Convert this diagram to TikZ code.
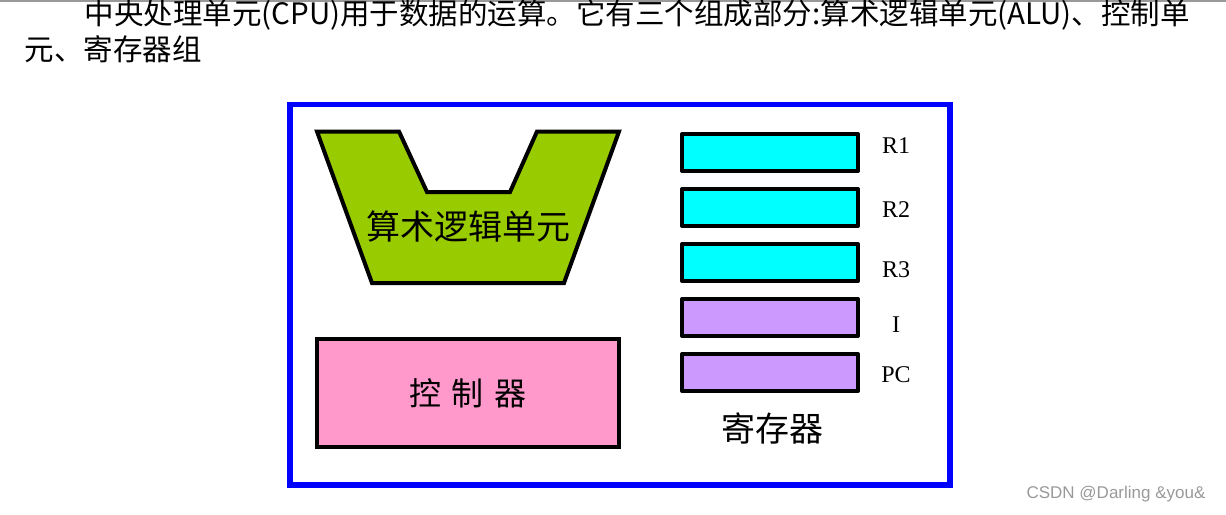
\documentclass[tikz,border=0pt]{standalone}
\usepackage{fontspec}
\setmainfont{Liberation Serif}
\newfontfamily\cjk{Noto Sans CJK SC}
\newfontfamily\wmfont{Liberation Sans}
\usepackage{tikz}
\usetikzlibrary{positioning}
\definecolor{aluGreen}{HTML}{99CC00}
\definecolor{ctrlPink}{HTML}{FF99CC}
\definecolor{regCyan}{HTML}{00FFFF}
\definecolor{regPurple}{HTML}{CC99FF}
\definecolor{frameBlue}{HTML}{0000FF}
\tikzset{
  % page text
  bodytext/.style={
    anchor=base west, inner sep=0pt,
    font=\cjk\fontsize{29.5}{36}\selectfont
  },
  % CPU parts
  cpuframe/.style={
    rectangle, draw=frameBlue, line width=5.5pt
  },
  alushape/.style={
    draw=black, fill=aluGreen, line width=4pt
  },
  ctrlbox/.style={
    rectangle, draw=black, fill=ctrlPink, line width=4pt,
    minimum width=302pt, minimum height=108pt,
    font=\cjk\fontsize{32}{32}\selectfont
  },
  regbox/.style={
    rectangle, draw=black, line width=4pt, line join=round,
    minimum width=176pt, minimum height=37pt, inner sep=0pt
  },
  regcyan/.style={regbox, fill=regCyan},
  regpurple/.style={regbox, fill=regPurple},
  reglabel/.style={
    inner sep=0pt, font=\fontsize{24}{24}\selectfont
  },
  partlabel/.style={
    inner sep=0pt, font=\cjk\fontsize{34}{34}\selectfont
  },
  watermark/.style={
    inner sep=0pt, text=black!40,
    font=\wmfont\fontsize{17}{17}\selectfont
  }
}

\begin{document}
\begin{tikzpicture}[x=1pt, y=-1pt]
  \useasboundingbox (0,0) rectangle (1226,514);
  \draw[black!40, line width=1.5pt] (0,0.75) -- (1226,0.75);

  % --- page text ---
  \node[bodytext] (line1) at (84.5,24)
    {中央处理单元(CPU)用于数据的运算。它有三个组成部分:算术逻辑单元(ALU)、控制单};
  \node[bodytext] (line2) at (24.5,60) {元、寄存器组};

  % --- CPU frame ---
  \node[cpuframe, minimum width=660pt, minimum height=380.5pt] (cpu) at (620,294.75) {};

  % --- ALU ---
  \draw[alushape] (317,131.5) -- (399,131.5) -- (427,192) -- (510,192)
    -- (537,131.5) -- (619,131.5) -- (564,283) -- (372,283) -- cycle;
  \node[partlabel] (alu) at (468,227) {算术逻辑单元};

  % --- control unit ---
  \node[ctrlbox] (ctrl) at (468,393) {控\hspace{11pt}制\hspace{11pt}器};

  % --- registers ---
  \node[regcyan] (r1) at (770,152.5) {};
  \node[regcyan, below=14pt of r1] (r2) {};
  \node[regcyan, below=14pt of r2] (r3) {};
  \node[regpurple, below=14pt of r3] (ri) {};
  \node[regpurple, below=14pt of ri] (pc) {};

  \node[reglabel] (lr1) at (896,146) {R1};
  \node[reglabel] (lr2) at (896,209.5) {R2};
  \node[reglabel] (lr3) at (896,269.5) {R3};
  \node[reglabel] (lri) at (896,325) {I};
  \node[reglabel] (lpc) at (896,374.5) {PC};

  \node[partlabel] (regs) at (772,428) {寄存器};

  % --- watermark ---
  \node[watermark] (wm) at (1116,494) {CSDN @Darling \&you\&};
\end{tikzpicture}
\end{document}
